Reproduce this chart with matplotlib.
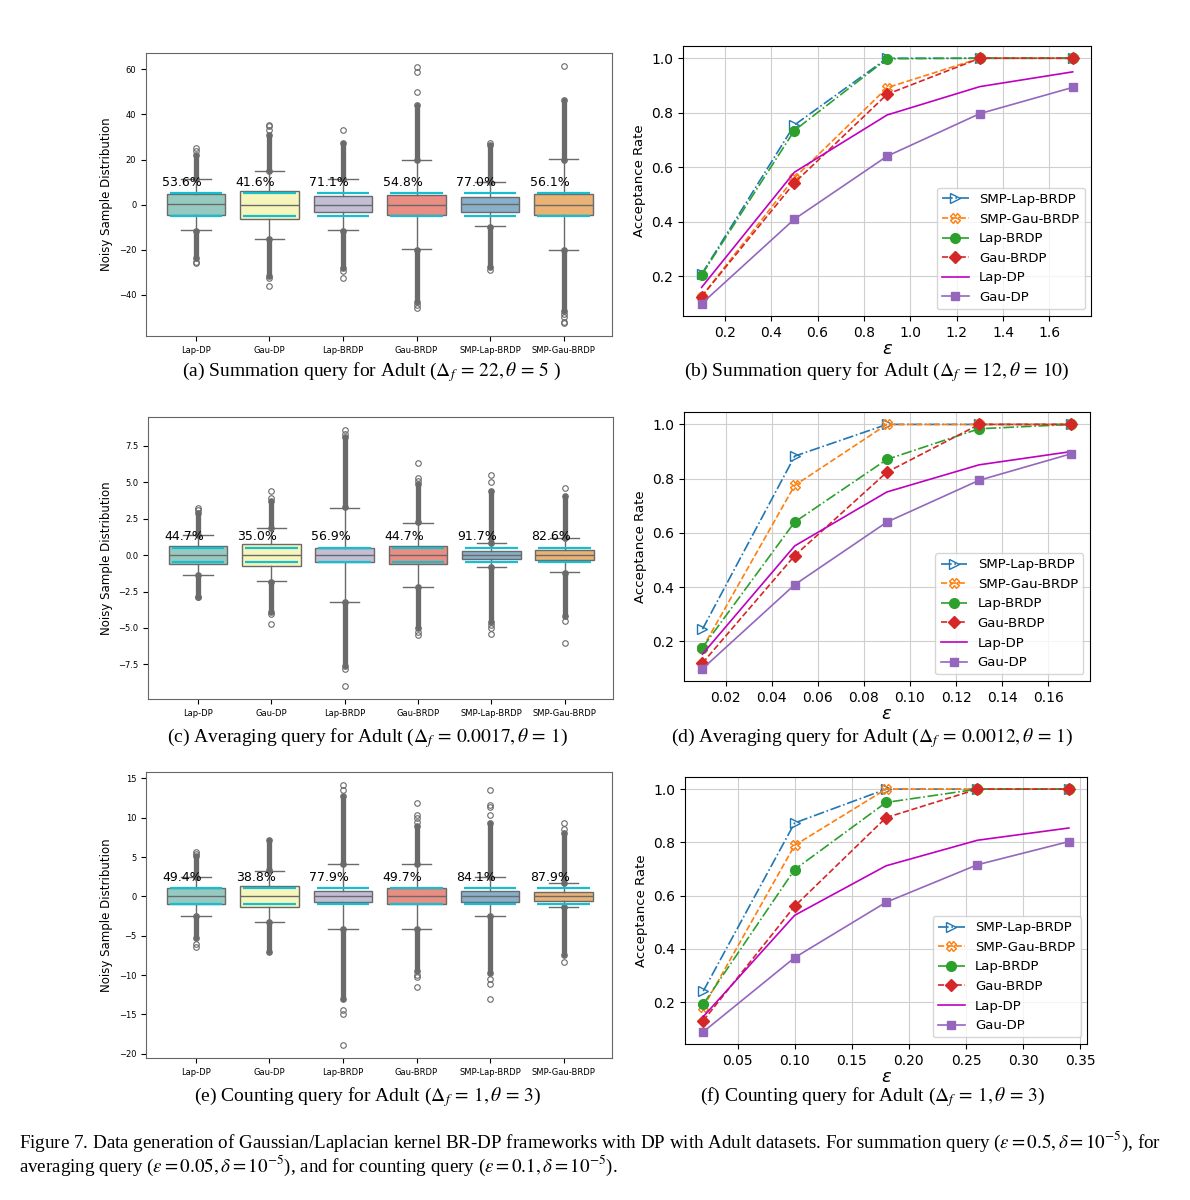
import numpy as np
import matplotlib
matplotlib.use("Agg")
import matplotlib.pyplot as plt
import seaborn as sns

plt.rcParams['mathtext.fontset'] = 'stix'

methods = ['Lap-DP', 'Gau-DP', 'Lap-BRDP', 'Gau-BRDP', 'SMP-Lap-BRDP', 'SMP-Gau-BRDP']

# ---- box panels ----
# (med, q1, q3, whislo, whishi) per method
# bands: ranges packed densely with outliers (upper, lower); out: isolated outliers
sum_stats = [(0.3, -4.6, 4.7, -11.3, 11.3), (0, -6.2, 6.2, -15, 15), (0, -3.4, 3.7, -11.3, 11.3),
             (0, -4.6, 4.4, -19.7, 19.9), (0.3, -3.1, 3.4, -9.6, 9.9), (0, -4.6, 4.6, -19.9, 20.1)]
sum_bands = [[(11.5, 22), (-11.5, -23.5)], [(15, 31), (-15, -31.5)], [(11.5, 27.5), (-11.5, -28)],
             [(20, 44), (-20, -43)], [(10, 26.5), (-10, -27.5)], [(20, 46.5), (-20, -47)]]
sum_out = [[24, 25, -25.5, -26], [33, 35, 35.5, -32.5, -36], [33, -29.5, -32.5],
           [50, 59, 61, -44.5, -46], [27.5, -29], [61.5, -48.5, -50, -52, -52.5]]
sum_pct = ['53.6%', '41.6%', '71.1%', '54.8%', '77.0%', '56.1%']

avg_stats = [(0, -0.6, 0.6, -1.35, 1.38), (0, -0.73, 0.73, -1.81, 1.83), (0, -0.46, 0.48, -3.19, 3.26),
             (0, -0.62, 0.64, -2.16, 2.22), (0, -0.28, 0.28, -0.83, 0.83), (0, -0.32, 0.32, -1.17, 1.15)]
avg_bands = [[(1.4, 2.9), (-1.35, -2.85)], [(1.85, 3.7), (-1.85, -3.9)], [(3.3, 8.1), (-3.2, -7.6)],
             [(2.25, 4.9), (-2.2, -5.0)], [(0.85, 4.4), (-0.85, -4.6)], [(1.2, 4.05), (-1.2, -4.15)]]
avg_out = [[3.1, 3.25, -2.9], [3.9, 4.4, -4.05, -4.7], [8.3, 8.6, -7.8, -9.0],
           [5.1, 5.3, 6.3, -5.3, -5.5], [5.0, 5.5, -4.8, -5.0, -5.4], [4.6, -4.5, -6.05]]
avg_pct = ['44.7%', '35.0%', '56.9%', '44.7%', '91.7%', '82.6%']

cnt_stats = [(0, -1.0, 1.0, -2.5, 2.5), (0, -1.35, 1.3, -3.3, 3.25), (0, -0.7, 0.65, -4.1, 4.1),
             (0, -1.0, 1.0, -4.1, 4.1), (0, -0.7, 0.65, -2.45, 2.5), (0, -0.56, 0.56, -1.35, 1.68)]
cnt_bands = [[(2.5, 5.1), (-2.5, -5.3)], [(3.3, 7.1), (-3.3, -7.1)], [(4.1, 12.8), (-4.1, -13.0)],
             [(4.1, 9.0), (-4.1, -9.5)], [(2.5, 9.3), (-2.5, -9.8)], [(1.7, 8.0), (-1.4, -7.5)]]
cnt_out = [[5.4, 5.6, -6.0, -6.5], [], [13.5, 14.1, -14.5, -14.9, -18.9],
           [9.5, 10.0, 10.4, 11.9, -10.0, -10.3, -11.5], [10.3, 11.3, 11.6, 13.5, -10.5, -11.2, -13.1],
           [8.5, 9.3, -8.3]]
cnt_pct = ['49.4%', '38.8%', '77.9%', '49.7%', '84.1%', '87.9%']

# ---- acceptance-rate panels ----
line_labels = ['SMP-Lap-BRDP', 'SMP-Gau-BRDP', 'Lap-BRDP', 'Gau-BRDP', 'Lap-DP', 'Gau-DP']

eps_sum = [0.1, 0.5, 0.9, 1.3, 1.7]
acc_sum = [[0.208, 0.755, 1.0, 1.0, 1.0],
           [0.126, 0.561, 0.892, 1.0, 1.0],
           [0.205, 0.735, 0.998, 1.0, 1.0],
           [0.126, 0.543, 0.868, 1.0, 1.0],
           [0.160, 0.582, 0.792, 0.896, 0.950],
           [0.100, 0.410, 0.641, 0.797, 0.893]]

eps_avg = [0.01, 0.05, 0.09, 0.13, 0.17]
acc_avg = [[0.245, 0.883, 1.0, 1.0, 1.0],
           [0.175, 0.775, 1.0, 1.0, 1.0],
           [0.177, 0.640, 0.871, 0.984, 1.0],
           [0.120, 0.516, 0.824, 1.0, 1.0],
           [0.153, 0.552, 0.751, 0.851, 0.900],
           [0.099, 0.409, 0.640, 0.794, 0.892]]

eps_cnt = [0.02, 0.10, 0.18, 0.26, 0.34]
acc_cnt = [[0.241, 0.873, 1.0, 1.0, 1.0],
           [0.180, 0.789, 1.0, 1.0, 1.0],
           [0.192, 0.698, 0.950, 1.0, 1.0],
           [0.130, 0.560, 0.893, 1.0, 1.0],
           [0.145, 0.526, 0.712, 0.808, 0.854],
           [0.088, 0.367, 0.575, 0.716, 0.803]]

box_colors = sns.color_palette('Set3', 6, desat=0.75)
line_styles = [
    dict(color='tab:blue', ls='-.', marker='>', mfc='none', ms=7),
    dict(color='tab:orange', ls='--', marker='X', mfc='none', ms=7),
    dict(color='tab:green', ls='-.', marker='o', ms=7),
    dict(color='tab:red', ls='--', marker='D', ms=6.5),
    dict(color='m', ls='-', marker=None),
    dict(color='tab:purple', ls='-', marker='s', ms=6),
]
GRAY = '#6a6a6a'


def box_panel(ax, stats, bands, outs, pct, theta, text_y):
    bstats = []
    for (med, q1, q3, lo, hi), bd, fl in zip(stats, bands, outs):
        ends = [bd[0][0], bd[0][1], bd[1][0], bd[1][1]]
        bstats.append(dict(med=med, q1=q1, q3=q3, whislo=lo, whishi=hi, fliers=ends + fl))
    bp = ax.bxp(bstats, positions=range(6), widths=0.8, capwidths=0.4, patch_artist=True,
                showfliers=True,
                boxprops=dict(edgecolor=GRAY, linewidth=1.0),
                medianprops=dict(color=GRAY, linewidth=1.0),
                whiskerprops=dict(color=GRAY, linewidth=1.0),
                capprops=dict(color=GRAY, linewidth=1.0),
                flierprops=dict(marker='o', mfc='none', mec=GRAY, ms=4, mew=0.8))
    for patch, c in zip(bp['boxes'], box_colors):
        patch.set_facecolor(c)
    # dense runs of outliers merge into a solid strip
    for i, bd in enumerate(bands):
        for a, b in bd:
            ax.plot([i, i], [a, b], color=GRAY, lw=3.8, solid_capstyle='round', zorder=2)
    for i in range(6):
        ax.hlines([theta, -theta], i - 0.36, i + 0.36, color='#17becf', lw=1.6, zorder=5)
        ax.text(i - 0.46, text_y, pct[i], fontsize=9, ha='left', va='bottom', zorder=6)
    ax.set_xticks(range(6))
    ax.set_xticklabels(methods, fontsize=6)
    ax.tick_params(axis='y', labelsize=6)
    ax.set_xlim(-0.68, 5.66)
    ax.set_ylabel('Noisy Sample Distribution', fontsize=8.5)
    for s in ax.spines.values():
        s.set_color('#666666')


def line_panel(ax, eps, acc):
    for lab, ys, st in zip(line_labels, acc, line_styles):
        ax.plot(eps, ys, label=lab, lw=1.2, **st)
    ax.grid(True, color='#cfcfcf', lw=0.8)
    ax.set_axisbelow(True)
    ax.tick_params(labelsize=10)
    ax.set_yticks([0.2, 0.4, 0.6, 0.8, 1.0])
    ax.set_ylabel('Acceptance Rate', fontsize=9.5)
    ax.set_xlabel(r'$\varepsilon$', fontsize=13, labelpad=0, math_fontfamily='dejavusans')
    ax.legend(loc='lower right', fontsize=9.5)


fig = plt.figure(figsize=(11.9, 12), dpi=100)

ax_a = fig.add_axes([0.1227, 0.720, 0.3916, 0.2358])
ax_b = fig.add_axes([0.574, 0.7367, 0.343, 0.225])
ax_c = fig.add_axes([0.1244, 0.4175, 0.3908, 0.235])
ax_d = fig.add_axes([0.5748, 0.4325, 0.341, 0.224])
ax_e = fig.add_axes([0.1227, 0.1183, 0.3916, 0.238])
ax_f = fig.add_axes([0.5756, 0.130, 0.338, 0.2225])

box_panel(ax_a, sum_stats, sum_bands, sum_out, sum_pct, 5, 7.0)
box_panel(ax_c, avg_stats, avg_bands, avg_out, avg_pct, 0.5, 0.85)
box_panel(ax_e, cnt_stats, cnt_bands, cnt_out, cnt_pct, 1, 1.6)
line_panel(ax_b, eps_sum, acc_sum)
line_panel(ax_d, eps_avg, acc_avg)
line_panel(ax_f, eps_cnt, acc_cnt)
ax_b.set_xticks([0.2, 0.4, 0.6, 0.8, 1.0, 1.2, 1.4, 1.6])
ax_d.set_xticks([0.02, 0.04, 0.06, 0.08, 0.10, 0.12, 0.14, 0.16])
ax_f.set_xticks([0.05, 0.10, 0.15, 0.20, 0.25, 0.30, 0.35])

serif = 'Liberation Serif'
caps = [
    (0.312, 0.690, r'(a) Summation query for Adult ($\Delta_f\, =\, 22, \theta\, =\, 5$ )'),
    (0.737, 0.690, r'(b) Summation query for Adult ($\Delta_f\, =\, 12, \theta\, =\, 10$)'),
    (0.309, 0.385, r'(c) Averaging query for Adult ($\Delta_f\, =\, 0.0017, \theta\, =\, 1$)'),
    (0.733, 0.385, r'(d) Averaging query for Adult ($\Delta_f\, =\, 0.0012, \theta\, =\, 1$)'),
    (0.309, 0.086, r'(e) Counting query for Adult ($\Delta_f\, =\, 1, \theta\, =\, 3$)'),
    (0.733, 0.086, r'(f) Counting query for Adult ($\Delta_f\, =\, 1, \theta\, =\, 3$)'),
]
for x, y, t in caps:
    fig.text(x, y, t, ha='center', va='center', fontsize=14, family=serif)

fig.text(0.016, 0.048, r'Figure 7. Data generation of Gaussian/Laplacian kernel BR-DP frameworks with DP with '
         r'Adult datasets. For summation query ($\epsilon = 0.5, \delta = 10^{-5}$), for',
         ha='left', va='center', fontsize=13.7, family=serif)
fig.text(0.016, 0.028, r'averaging query ($\epsilon = 0.05, \delta = 10^{-5}$), and for counting query '
         r'($\epsilon = 0.1, \delta = 10^{-5}$).',
         ha='left', va='center', fontsize=13.7, family=serif)

fig.savefig('out.png', dpi=100)
